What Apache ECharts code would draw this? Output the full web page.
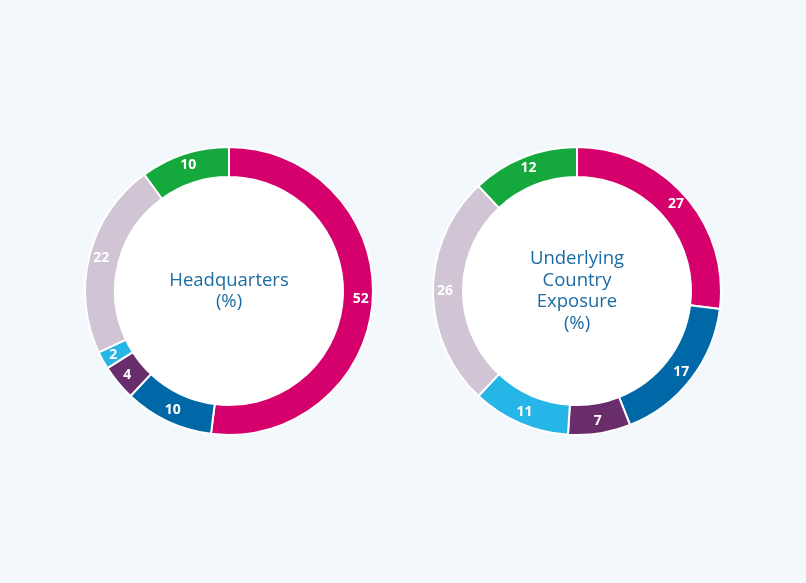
<!DOCTYPE html>
<html lang="en">
<head>
    <meta charset="UTF-8">
    <title>Headquarters vs Underlying Country Exposure</title>
    <script type="text/javascript" src="https://cdn.jsdelivr.net/npm/echarts@6/dist/echarts.min.js"></script>
    <style>
        html, body { margin: 0; padding: 0; background: #f3f8fc; }
    </style>
</head>
<body>
  <div id="main" style="width: 806px;height: 583px;"></div>
</body>
<script>
    // data, clockwise from 12 o'clock
    var segmentColors = ['#d5006c', '#0068a6', '#6a2d6c', '#25b5e7', '#d1c4d4', '#15a83d'];
    var hqValues = [52, 10, 4, 2, 22, 10];
    var exposureValues = [27, 17, 7, 11, 26, 12];
    var hqTitle = 'Headquarters\n(%)';
    var exposureTitle = 'Underlying\nCountry\nExposure\n(%)';

    var myChart = echarts.init(document.getElementById('main'));

    function toData(values) {
        return values.map(function (v, i) {
            return { value: v, itemStyle: { color: segmentColors[i] } };
        });
    }

    function ring(center, values) {
        return {
            type: 'pie',
            center: center,
            radius: [114, 144],
            startAngle: 90,
            clockwise: true,
            silent: true,
            animation: false,
            itemStyle: { borderColor: '#ffffff', borderWidth: 2 },
            label: {
                show: true,
                position: 'inside',
                color: '#ffffff',
                fontFamily: 'Open Sans',
                fontWeight: 'bold',
                fontSize: 14,
                formatter: '{c}'
            },
            labelLine: { show: false },
            data: toData(values)
        };
    }

    function hole(center, text) {
        return {
            type: 'pie',
            center: center,
            radius: [0, 114],
            silent: true,
            animation: false,
            itemStyle: { color: '#ffffff' },
            label: {
                show: true,
                position: 'center',
                formatter: text,
                color: '#1a6ba3',
                fontFamily: 'Open Sans',
                fontSize: 18.5,
                lineHeight: 21.5
            },
            labelLine: { show: false },
            data: [{ value: 1 }]
        };
    }

    var option = {
        backgroundColor: '#f3f8fc',
        series: [
            hole([229, 291], hqTitle),
            ring([229, 291], hqValues),
            hole([577, 291], exposureTitle),
            ring([577, 291], exposureValues)
        ]
    };
    myChart.setOption(option);
</script>
</html>
